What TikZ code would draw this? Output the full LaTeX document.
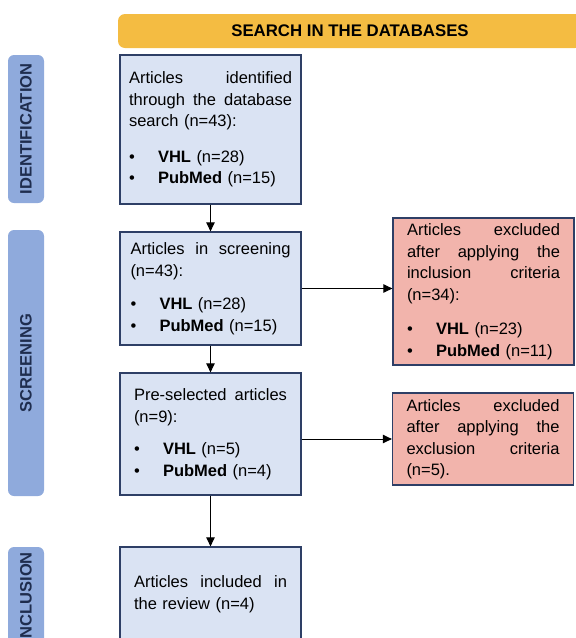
\documentclass[tikz,border=0pt]{standalone}
\usepackage{fontspec}
\setmainfont{Liberation Sans}
\usetikzlibrary{arrows.meta}
\definecolor{bannergold}{HTML}{F4BC42}
\definecolor{tagblue}{HTML}{8FAADC}
\definecolor{tagtext}{HTML}{1F2D4E}
\definecolor{boxblue}{HTML}{DAE3F3}
\definecolor{boxpink}{HTML}{F2B4AC}
\definecolor{boxline}{HTML}{2E3F66}
\newcommand{\jline}[1]{{\spaceskip=0pt\xspaceskip=0pt\makebox[\hsize][s]{#1}}}
\newcommand{\bitem}[2]{\makebox[29pt][l]{\textbullet}\textbf{#1} #2}

\begin{document}
\begin{tikzpicture}[x=1pt, y=-1pt,
    banner/.style={fill=bannergold, rounded corners=7pt, minimum width=464pt, minimum height=34pt,
      inner sep=0pt, font=\bfseries\fontsize{16.8}{18}\selectfont},
    stage/.style={fill=tagblue, rounded corners=6pt, rotate=90, minimum height=36pt, inner sep=0pt,
      text=tagtext, font=\bfseries\fontsize{16.5}{18}\selectfont},
    bluebox/.style={draw=boxline, line width=1.3pt, fill=boxblue, minimum width=181pt, inner xsep=9pt,
      inner ysep=4pt, align=left, text width=163pt, font=\fontsize{16.5}{21.5}\selectfont},
    pinkbox/.style={bluebox, fill=boxpink, text width=153pt},
    flow/.style={-{Triangle[length=9pt,width=8.5pt]}, line width=0.9pt}]
	\useasboundingbox (0,0) rectangle (576,638);
	\clip (0,0) rectangle (576,638);

	% Header
	\node[banner] (search) at (350,31) {SEARCH IN THE DATABASES};

	% Stages
	\node[stage, minimum width=148pt] (identtag) at (26,129) {IDENTIFICATION};
	\node[stage, minimum width=266pt] (screentag) at (26,363) {SCREENING};
	\node[stage, minimum width=101pt] (incltag) at (26,597.5) {INCLUSION};

	% Main flow
	\node[bluebox, minimum height=149pt] (ident) at (210.5,129.5)
		{\jline{Articles identified}\\ \jline{through the database}\\ search (n=43):\\[14pt]
		 \bitem{VHL}{(n=28)}\\ \bitem{PubMed}{(n=15)}};
	\node[bluebox, text width=160pt, minimum height=113pt] (screen) at (210.5,288.5)
		{\jline{Articles in screening}\\ (n=43):\\[12pt]
		 \bitem{VHL}{(n=28)}\\ \bitem{PubMed}{(n=15)}};
	\node[bluebox, text width=153pt, minimum height=122pt] (pre) at (210.5,434)
		{\jline{Pre-selected articles}\\ (n=9):\\[11pt]
		 \bitem{VHL}{(n=5)}\\ \bitem{PubMed}{(n=4)}};
	\node[bluebox, text width=153pt, minimum height=94pt] (incl) at (210.5,594)
		{\jline{Articles included in}\\ the review (n=4)};

	% Exclusions
	\node[pinkbox, minimum height=147pt] (pink1) at (483.5,291.5)
		{\jline{Articles excluded}\\ \jline{after applying the}\\ \jline{inclusion criteria}\\ (n=34):\\[13pt]
		 \bitem{VHL}{(n=23)}\\ \bitem{PubMed}{(n=11)}};
	\node[pinkbox, minimum height=92pt] (pink2) at (483,439)
		{\jline{Articles excluded}\\ \jline{after applying the}\\ \jline{exclusion criteria}\\ (n=5).};

	% Arrows
	\draw[flow] (ident.south) -- (screen.north);
	\draw[flow] (screen.south) -- (pre.north);
	\draw[flow] (pre.south) -- (incl.north);
	\draw[flow] (screen.east) -- (screen.east -| pink1.west);
	\draw[flow] (pink2.west -| pre.east) -- (pink2.west);
\end{tikzpicture}
\end{document}
